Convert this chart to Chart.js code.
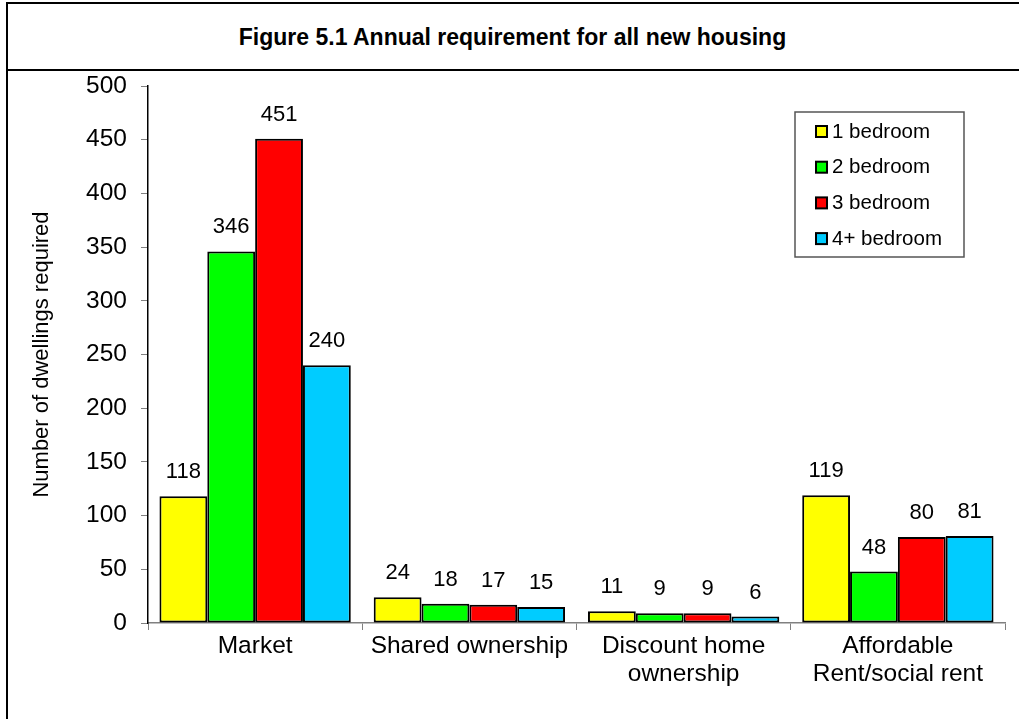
<!DOCTYPE html>
<html lang="en">
<head>
    <meta charset="UTF-8">
    <title>Figure 5.1 Annual requirement for all new housing</title>
    <script src="https://cdn.jsdelivr.net/npm/chart.js"></script>
    <style>
        body {
            margin: 0;
            width: 1019px;
            height: 719px;
            overflow: hidden;
            background: #fff;
            font-family: 'Liberation Sans', Arial, sans-serif;
        }
        .frame {
            position: absolute;
            left: 6px;
            top: 2px;
            width: 1100px;
            height: 800px;
            border-left: 2px solid #000;
            border-top: 2px solid #000;
        }
        .title {
            position: absolute;
            left: 6px;
            top: 4px;
            width: 1013px;
            height: 65px;
            border-bottom: 2px solid #000;
            text-align: center;
            line-height: 66px;
            font-size: 23px;
            font-weight: bold;
        }
        #chart {
            position: absolute;
            left: 0;
            top: 0;
        }
    </style>
</head>
<body>
    <div class="frame"></div>
    <div class="title">Figure 5.1 Annual requirement for all new housing</div>
    <canvas id="chart" width="1019" height="719"></canvas>

    <script>
        // Data
        const categories = ['Market', 'Shared ownership', ['Discount home', 'ownership'], ['Affordable', 'Rent/social rent']];
        const seriesNames = ['1 bedroom', '2 bedroom', '3 bedroom', '4+ bedroom'];
        const oneBed = [118, 24, 11, 119];
        const twoBed = [346, 18, 9, 48];
        const threeBed = [451, 17, 9, 80];
        const fourBed = [240, 15, 6, 81];
        const colors = ['#FFFF00', '#00FF00', '#FF0000', '#00CCFF'];

        const font = "'Liberation Sans', Arial, sans-serif";

        // value labels above each bar
        const valueLabels = {
            id: 'valueLabels',
            afterDatasetsDraw(chart) {
                const ctx = chart.ctx;
                ctx.save();
                ctx.font = '22px ' + font;
                ctx.fillStyle = '#000';
                ctx.textAlign = 'center';
                ctx.textBaseline = 'middle';
                chart.data.datasets.forEach((ds, i) => {
                    chart.getDatasetMeta(i).data.forEach((bar, j) => {
                        ctx.fillText(ds.data[j], bar.x, bar.y - 24);
                    });
                });
                ctx.restore();
            }
        };

        // boxed legend inside the plot area
        const boxLegend = {
            id: 'boxLegend',
            afterDraw(chart) {
                const ctx = chart.ctx;
                const area = chart.chartArea;
                const right = area.right - 41;
                const left = right - 169;
                const top = area.top + 26;
                ctx.save();
                ctx.fillStyle = '#fff';
                ctx.fillRect(left, top, 169, 145);
                ctx.strokeStyle = '#555';
                ctx.lineWidth = 1.5;
                ctx.strokeRect(left, top, 169, 145);
                ctx.font = '20.5px ' + font;
                ctx.textBaseline = 'middle';
                ctx.textAlign = 'left';
                chart.data.datasets.forEach((ds, i) => {
                    const cy = top + 19 + i * 35.7;
                    ctx.fillStyle = ds.backgroundColor;
                    ctx.fillRect(left + 21, cy - 5, 11, 11);
                    ctx.strokeStyle = '#000';
                    ctx.lineWidth = 2;
                    ctx.strokeRect(left + 21, cy - 5, 11, 11);
                    ctx.fillStyle = '#000';
                    ctx.fillText(ds.label, left + 37, cy + 1);
                });
                ctx.restore();
            }
        };

        const seriesData = [oneBed, twoBed, threeBed, fourBed];

        new Chart(document.getElementById('chart'), {
            type: 'bar',
            data: {
                labels: categories,
                datasets: seriesData.map((d, i) => ({
                    label: seriesNames[i],
                    data: d,
                    backgroundColor: colors[i],
                    borderColor: '#000',
                    borderWidth: 2,
                    borderSkipped: false,
                    categoryPercentage: 0.893,
                    barPercentage: 1
                }))
            },
            options: {
                responsive: false,
                animation: false,
                layout: {
                    padding: { top: 86, right: 14, left: 0, bottom: 0 }
                },
                plugins: {
                    legend: { display: false },
                    tooltip: { enabled: false }
                },
                scales: {
                    x: {
                        afterFit(scale) { scale.height = 96; },
                        grid: {
                            offset: true,
                            drawOnChartArea: false,
                            drawTicks: true,
                            tickLength: 7,
                            color: '#808080'
                        },
                        border: { color: '#808080', width: 1.5 },
                        ticks: {
                            color: '#000',
                            padding: 3,
                            maxRotation: 0,
                            autoSkip: false,
                            font: { family: font, size: 24.5, lineHeight: 1.12 }
                        }
                    },
                    y: {
                        min: 0,
                        max: 500,
                        afterFit(scale) { scale.width = 148; },
                        grid: {
                            drawOnChartArea: false,
                            drawTicks: true,
                            tickLength: 7,
                            color: '#808080'
                        },
                        border: { color: '#000', width: 1.5 },
                        ticks: {
                            stepSize: 50,
                            color: '#000',
                            padding: 14,
                            font: { family: font, size: 24.5 }
                        },
                        title: {
                            display: true,
                            text: 'Number of dwellings required',
                            color: '#000',
                            padding: { top: 29, bottom: 0 },
                            font: { family: font, size: 22 }
                        }
                    }
                }
            },
            plugins: [valueLabels, boxLegend]
        });
    </script>
</body>
</html>
